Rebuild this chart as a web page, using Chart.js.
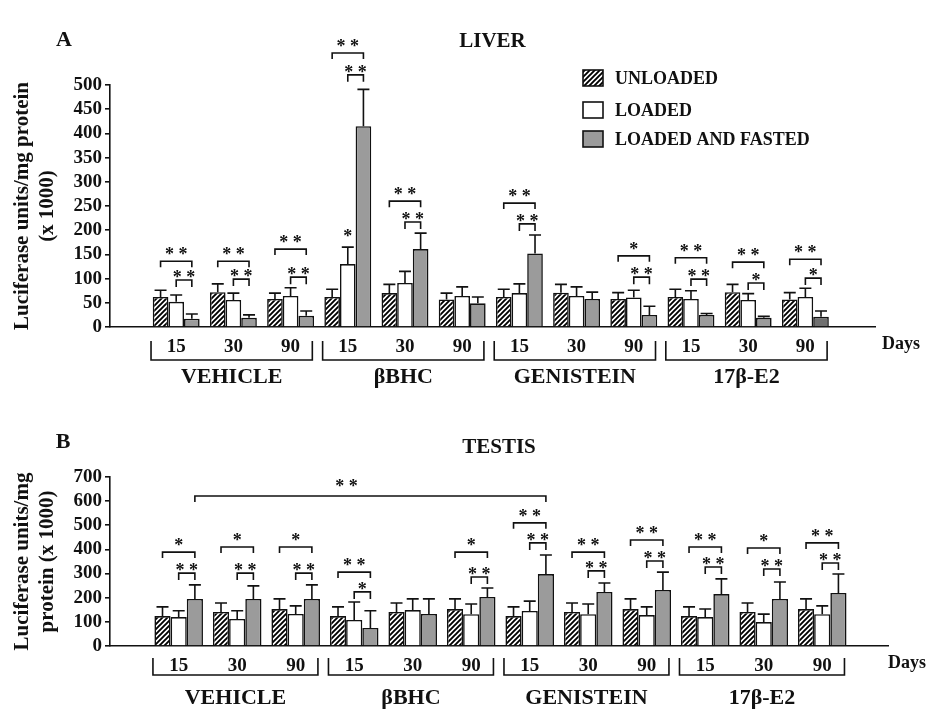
<!DOCTYPE html>
<html>
<head>
<meta charset="utf-8">
<script src="https://cdn.jsdelivr.net/npm/chart.js@4.4.0/dist/chart.umd.min.js"></script>
<style>
    body { margin: 0; background: #fff; }
    #wrap { position: relative; width: 927px; height: 710px; }
    canvas { position: absolute; left: 0; }
</style>
</head>
<body>
<div id="wrap">
    <canvas id="liverChart" width="927" height="400" style="top:0"></canvas>
    <canvas id="testisChart" width="927" height="310" style="top:400px"></canvas>
</div>
<script>
// Categories
const days = ['15', '30', '90'];
const treatments = ['VEHICLE', 'βBHC', 'GENISTEIN', '17β-E2'];
const seriesNames = ['UNLOADED', 'LOADED', 'LOADED AND FASTED'];

// A - liver (x 1000 luciferase units / mg protein)
const liverUnloaded = [62, 72, 58, 62, 70, 57, 62, 71, 58, 62, 72, 57];
const liverUnloadedSd = [14, 17, 12, 16, 18, 13, 16, 17, 13, 16, 16, 14];
const liverLoaded = [52, 56, 64, 130, 91, 64, 70, 64, 61, 58, 56, 62];
const liverLoadedSd = [14, 14, 17, 35, 24, 19, 19, 19, 15, 17, 13, 18];
const liverFasted = [17, 19, 23, 415, 161, 49, 152, 58, 25, 25, 19, 21];
const liverFastedSd = [10, 6, 10, 76, 33, 13, 38, 14, 18, 3, 3, 12];
const liverTicks = [0, 50, 100, 150, 200, 250, 300, 350, 400, 450, 500];

// significance brackets (level on the y scale, label)
const liverWide = [136, 136, 161, 566, 260, null, 256, null, 147, 143, 134, 140];
const liverWideSig = ['**', '**', '**', '**', '**', '', '**', '', '*', '**', '**', '**'];
const liverNarrow = [97, 99, 103, 521, 217, null, 213, null, 103, 99, 91, 101];
const liverNarrowSig = ['**', '**', '**', '**', '**', '', '**', '', '**', '**', '*', '*'];

// B - testis
const testisUnloaded = [124, 141, 153, 124, 141, 153, 124, 141, 153, 124, 141, 153];
const testisUnloadedSd = [38, 37, 42, 38, 37, 42, 38, 37, 42, 38, 37, 42];
const testisLoaded = [120, 112, 133, 108, 149, 132, 145, 132, 128, 120, 99, 132];
const testisLoadedSd = [26, 34, 33, 74, 46, 42, 41, 42, 34, 33, 33, 34];
const testisFasted = [195, 195, 195, 75, 133, 203, 298, 224, 232, 215, 195, 220];
const testisFastedSd = [58, 54, 58, 71, 62, 37, 79, 37, 74, 63, 70, 78];
const testisTicks = [0, 100, 200, 300, 400, 500, 600, 700];

const testisWide = [389, 410, 410, 306, null, 389, 510, 389, 439, 410, 406, 427];
const testisWideSig = ['*', '*', '*', '**', '', '*', '**', '**', '**', '**', '*', '**'];
const testisNarrow = [302, 302, 302, 224, null, 286, 427, 311, 352, 327, 319, 344];
const testisNarrowSig = ['**', '**', '**', '*', '', '**', '**', '**', '**', '**', '**', '**'];

const ink = '#111';
const grey = '#9b9b9b';
const serif = '"Liberation Serif", "Times New Roman", serif';
const catIdx = treatments.flatMap(() => days).map((d, i) => i);

function hatchPattern() {
    const c = document.createElement('canvas');
    c.width = 5;
    c.height = 5;
    const g = c.getContext('2d');
    g.fillStyle = '#fff';
    g.fillRect(0, 0, 5, 5);
    g.strokeStyle = '#000';
    g.lineWidth = 1.9;
    g.beginPath();
    g.moveTo(-1, 6); g.lineTo(6, -1);
    g.moveTo(-1, 1); g.lineTo(1, -1);
    g.moveTo(4, 6); g.lineTo(6, 4);
    g.stroke();
    return g.createPattern(c, 'repeat');
}
const hatch = hatchPattern();

function toXY(values) {
    return values.map((v, i) => ({ x: catIdx[i], y: v }));
}

function starText(s) {
    return s.split('').join(' ');
}

function bracket(ctx, x1, x2, yy, leg) {
    ctx.beginPath();
    ctx.moveTo(x1, yy + leg);
    ctx.lineTo(x1, yy);
    ctx.lineTo(x2, yy);
    ctx.lineTo(x2, yy + leg);
    ctx.stroke();
}

// Upper error bars
const errorBars = {
    id: 'errorBars',
    afterDatasetsDraw(chart, args, opts) {
        const { ctx, scales: { y } } = chart;
        ctx.save();
        ctx.strokeStyle = ink;
        ctx.lineWidth = 1.6;
        opts.sd.forEach((sdArr, di) => {
            const vals = chart.data.datasets[di].data;
            chart.getDatasetMeta(di).data.forEach((bar, i) => {
                const top = y.getPixelForValue(vals[i].y + sdArr[i]);
                ctx.beginPath();
                ctx.moveTo(bar.x, bar.y);
                ctx.lineTo(bar.x, top);
                ctx.moveTo(bar.x - 6, top);
                ctx.lineTo(bar.x + 6, top);
                ctx.stroke();
            });
        });
        ctx.restore();
    }
};

// Significance brackets and stars
const sigMarks = {
    id: 'sigMarks',
    afterDatasetsDraw(chart, args, o) {
        const { ctx, scales: { x, y } } = chart;
        const hatched = chart.getDatasetMeta(0).data;
        const plain = chart.getDatasetMeta(1).data;
        const filled = chart.getDatasetMeta(2).data;
        ctx.save();
        ctx.strokeStyle = ink;
        ctx.fillStyle = ink;
        ctx.lineWidth = 1.6;
        ctx.font = 'bold 18px ' + serif;
        ctx.textAlign = 'center';
        ctx.textBaseline = 'alphabetic';
        o.wide.forEach((v, i) => {
            if (v == null) return;
            const yy = y.getPixelForValue(v);
            bracket(ctx, hatched[i].x, filled[i].x, yy, 6);
            ctx.fillText(starText(o.wideSig[i]), (hatched[i].x + filled[i].x) / 2, yy - 1);
        });
        o.narrow.forEach((v, i) => {
            if (v == null) return;
            const yy = y.getPixelForValue(v);
            bracket(ctx, plain[i].x, filled[i].x, yy, 7);
            ctx.fillText(starText(o.narrowSig[i]), (plain[i].x + filled[i].x) / 2, yy + 3);
        });
        (o.extra || []).forEach(s => {
            const bar = chart.getDatasetMeta(s.series).data[s.idx];
            ctx.fillText(starText(s.text), bar.x, y.getPixelForValue(s.value));
        });
        if (o.long) {
            const L = o.long;
            const bars = chart.getDatasetMeta(L.series).data;
            const yy = y.getPixelForValue(L.value);
            bracket(ctx, bars[L.from].x, bars[L.to].x, yy, 6);
            ctx.fillText(starText(L.text), x.getPixelForValue(L.labelAt), yy - 4);
        }
        ctx.restore();
    }
};

// Panel letter, title, treatment brackets, "Days"
const panelText = {
    id: 'panelText',
    afterDraw(chart, args, o) {
        const { ctx, scales: { x }, chartArea } = chart;
        const axisY = chartArea.bottom;
        const step = x.getPixelForValue(1) - x.getPixelForValue(0);
        ctx.save();
        ctx.fillStyle = ink;
        ctx.strokeStyle = ink;
        ctx.lineWidth = 1.6;
        ctx.textAlign = 'center';
        ctx.textBaseline = 'middle';
        ctx.font = 'bold 22px ' + serif;
        ctx.fillText(o.letter, o.letterX, o.letterY);
        ctx.font = 'bold 21px ' + serif;
        ctx.fillText(o.title, (chartArea.left + chartArea.right) / 2, o.titleY);
        treatments.forEach((t, k) => {
            const xl = x.getPixelForValue(3 * k) - 0.44 * step;
            const xr = x.getPixelForValue(3 * k + 2) + 0.38 * step;
            ctx.beginPath();
            ctx.moveTo(xl, axisY + o.brTop);
            ctx.lineTo(xl, axisY + o.brBottom);
            ctx.lineTo(xr, axisY + o.brBottom);
            ctx.lineTo(xr, axisY + o.brTop);
            ctx.stroke();
            ctx.font = 'bold 22px ' + serif;
            ctx.fillText(t, (xl + xr) / 2, axisY + o.groupDy);
        });
        ctx.font = 'bold 18px ' + serif;
        ctx.textAlign = 'left';
        ctx.fillText('Days', o.daysX, axisY + 17);
        ctx.restore();
    }
};

// Legend (panel A only)
const boxLegend = {
    id: 'boxLegend',
    afterDraw(chart, args, o) {
        if (!o.show) return;
        const { ctx } = chart;
        ctx.save();
        ctx.lineWidth = 1.6;
        ctx.strokeStyle = ink;
        ctx.font = 'bold 18px ' + serif;
        ctx.textAlign = 'left';
        ctx.textBaseline = 'middle';
        chart.data.datasets.forEach((ds, i) => {
            const yc = o.ys[i];
            ctx.fillStyle = Array.isArray(ds.backgroundColor) ? ds.backgroundColor[0] : ds.backgroundColor;
            ctx.fillRect(o.x, yc - 8, 20, 16);
            ctx.strokeRect(o.x, yc - 8, 20, 16);
            ctx.fillStyle = ink;
            ctx.fillText(ds.label, o.x + 32, yc + 1);
        });
        ctx.restore();
    }
};

function makeChart(id, cfg) {
    const tickFont = { family: serif, size: 19, weight: 'bold' };
    return new Chart(document.getElementById(id), {
        type: 'bar',
        data: {
            datasets: [
                { label: seriesNames[0], data: toXY(cfg.values[0]), backgroundColor: hatch },
                { label: seriesNames[1], data: toXY(cfg.values[1]), backgroundColor: '#fff' },
                { label: seriesNames[2], data: toXY(cfg.values[2]), backgroundColor: cfg.greys }
            ].map(d => Object.assign(d, {
                borderColor: ink,
                borderWidth: 1.6,
                categoryPercentage: cfg.catPct,
                barPercentage: 1
            }))
        },
        options: {
            responsive: false,
            animation: false,
            layout: { padding: { top: cfg.top, right: cfg.right, left: 0, bottom: 0 } },
            scales: {
                x: {
                    type: 'linear',
                    bounds: 'data',
                    min: cfg.xmin,
                    max: cfg.xmax,
                    afterBuildTicks: s => { s.ticks = catIdx.map(v => ({ value: v })); },
                    ticks: {
                        color: ink,
                        font: tickFont,
                        padding: 1,
                        autoSkip: false,
                        maxRotation: 0,
                        callback: v => days[v % 3]
                    },
                    grid: { display: false },
                    border: { color: ink, width: 1.6 },
                    afterFit: s => { s.height = cfg.xHeight; }
                },
                y: {
                    min: 0,
                    max: cfg.ticks[cfg.ticks.length - 1],
                    afterBuildTicks: s => { s.ticks = cfg.ticks.map(v => ({ value: v })); },
                    ticks: { color: ink, font: tickFont, padding: 3, autoSkip: false },
                    grid: { drawOnChartArea: false, color: ink, tickLength: 5, lineWidth: 1.6 },
                    border: { color: ink, width: 1.6 },
                    title: {
                        display: true,
                        text: cfg.yTitle,
                        color: ink,
                        font: { family: serif, size: 21, weight: 'bold', lineHeight: 1.19 },
                        padding: { top: 10.5, bottom: 0 }
                    },
                    afterFit: s => { s.width = 110; }
                }
            },
            plugins: {
                legend: { display: false },
                tooltip: { enabled: false },
                errorBars: { sd: cfg.sd },
                sigMarks: cfg.sig,
                panelText: cfg.text,
                boxLegend: cfg.legend
            }
        },
        plugins: [errorBars, sigMarks, panelText, boxLegend]
    });
}

document.addEventListener('DOMContentLoaded', () => {
    makeChart('liverChart', {
        values: [liverUnloaded, liverLoaded, liverFasted],
        sd: [liverUnloadedSd, liverLoadedSd, liverFastedSd],
        greys: liverFasted.map((v, i) => (i === 11 ? '#707070' : grey)),
        ticks: liverTicks,
        catPct: 0.82,
        top: 85,
        right: 52,
        xmin: -0.6,
        xmax: 11.66,
        xHeight: 73,
        yTitle: ['Luciferase units/mg protein', '(x 1000)'],
        sig: {
            wide: liverWide, wideSig: liverWideSig,
            narrow: liverNarrow, narrowSig: liverNarrowSig,
            extra: [{ series: 1, idx: 3, value: 176, text: '*' }]
        },
        text: { letter: 'A', letterX: 64, letterY: 40, title: 'LIVER', titleY: 42,
                brTop: 14, brBottom: 33, groupDy: 50, daysX: 882 },
        legend: { show: true, x: 583, ys: [78, 110, 139] }
    });

    makeChart('testisChart', {
        values: [testisUnloaded, testisLoaded, testisFasted],
        sd: [testisUnloadedSd, testisLoadedSd, testisFastedSd],
        greys: grey,
        ticks: testisTicks,
        catPct: 0.83,
        top: 77,
        right: 39,
        xmin: -0.62,
        xmax: 11.57,
        xHeight: 64,
        yTitle: ['Luciferase units/mg', 'protein (x 1000)'],
        sig: {
            wide: testisWide, wideSig: testisWideSig,
            narrow: testisNarrow, narrowSig: testisNarrowSig,
            long: { series: 2, from: 0, to: 6, value: 621, labelAt: 2.87, text: '**' }
        },
        text: { letter: 'B', letterX: 63, letterY: 42, title: 'TESTIS', titleY: 48,
                brTop: 12, brBottom: 29, groupDy: 52, daysX: 888 },
        legend: { show: false }
    });
});
</script>
</body>
</html>
